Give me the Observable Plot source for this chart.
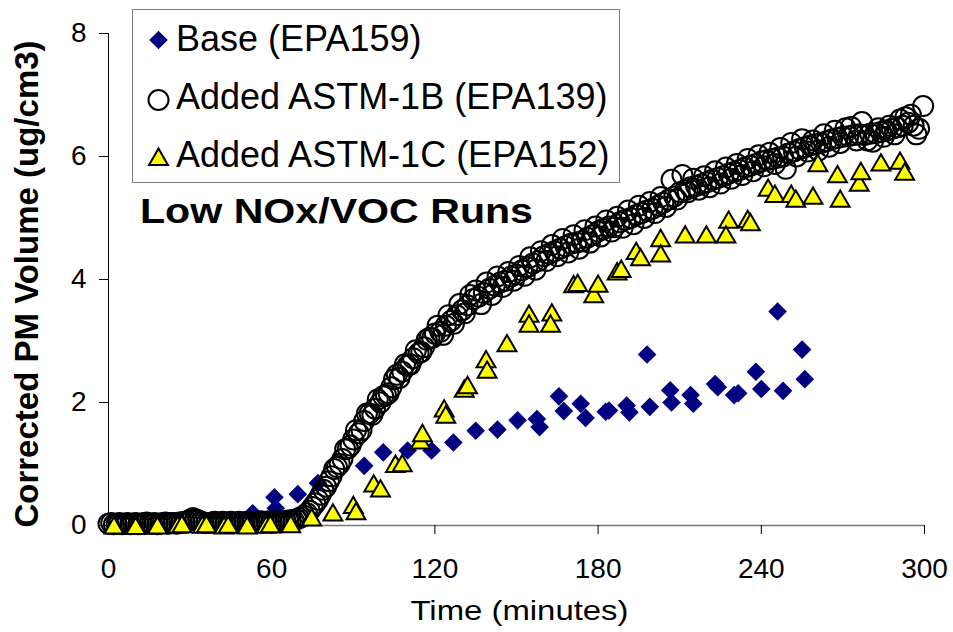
<!DOCTYPE html>
<html>
<head>
<meta charset="utf-8">
<script src="https://cdn.jsdelivr.net/npm/d3@7"></script>
<script src="https://cdn.jsdelivr.net/npm/@observablehq/plot@0.6"></script>
<style>
  html, body { margin: 0; padding: 0; background: white; }
  #wrap { position: relative; width: 953px; height: 632px; overflow: hidden; background: white; }
  #wrap > svg { position: absolute; left: 0; top: 0; }
</style>
</head>
<body>
<div id="wrap"></div>
<script>
const FONT = "'Liberation Sans', Arial, Helvetica, sans-serif";

// ---- data ----
const seriesNames = ["Base (EPA159)", "Added ASTM-1B (EPA139)", "Added ASTM-1C (EPA152)"];
const chartNote = "Low NOx/VOC Runs";
const xTitle = "Time (minutes)";
const yTitle = "Corrected PM Volume (ug/cm3)";
const xTicks = [0, 60, 120, 180, 240, 300];
const yTicks = [0, 2, 4, 6, 8];

// Base (EPA159) - diamonds
const baseT = [53, 61, 61.5, 69.6, 77, 94, 101, 110, 118.8, 126.8, 135, 143, 150.4, 157.5, 158.5,
  165.6, 167.4, 173.6, 175.4, 182.8, 184, 190.5, 191.5, 198, 199, 206.5, 207, 214, 215,
  223, 224, 230, 231.5, 238, 240, 246, 248, 255, 256];
const baseV = [0.2, 0.46, 0.28, 0.51, 0.69, 0.97, 1.19, 1.22, 1.22, 1.35, 1.54, 1.56, 1.71, 1.73, 1.6,
  2.1, 1.86, 1.98, 1.75, 1.85, 1.87, 1.95, 1.84, 2.78, 1.93, 2.2, 2.0, 2.12, 1.98,
  2.3, 2.25, 2.12, 2.15, 2.5, 2.22, 3.48, 2.19, 2.86, 2.38];

// Added ASTM-1B (EPA139) - open circles
const astmBT1 = [0,2,4,6,8,10,12,14,16,18, 20,22,24,26,28,30,32,34,36,38,
  40,42,44,46,48,50,52,54,56,58, 60,62,64,66,68,70,72,74,76,78,
  80,82,84,86,88,90,92,94,96,98, 100,102,104,106,108,110,112,114,116,118,
  120,122,124,126,128,130,132,134,136,138, 140,142,144,146,148,150,152,154,156,158,
  160,162,164,166,168,170,172,174,176,178, 180,182,184,186,188,190,192,194,196,198,
  200,202,204,206,208,210,212,214,216,218, 220,222,224,226,228,230,232,234,236,238,
  240,242,244,246,248,250,252,254,256,258, 260,262,264,266,268,270,272,274,276,278,
  280,282,284,286,288,290,292,294,296,298];
const astmBV1 = [0.03,0.02,0.04,0.03,0.02,0.04,0.03,0.05,0.03,0.02,
  0.04,0.03,0.04,0.05,0.06,0.09,0.10,0.06,0.04,0.05,
  0.04,0.06,0.05,0.04,0.06,0.05,0.06,0.05,0.07,0.06,
  0.05,0.07,0.06,0.08,0.09,0.12,0.16,0.24,0.36,0.50,
  0.63,0.80,0.95,1.08,1.25,1.40,1.50,1.70,1.82,1.90,
  2.00,2.12,2.25,2.45,2.50,2.60,2.72,2.80,2.90,3.05,
  3.12,3.15,3.25,3.33,3.42,3.50,3.58,3.68,3.72,3.78,
  3.85,3.90,3.95,3.98,4.05,4.08,4.15,4.20,4.26,4.30,
  4.38,4.42,4.46,4.50,4.54,4.58,4.60,4.62,4.68,4.72,
  4.78,4.82,4.86,4.85,4.93,4.97,5.00,5.05,5.08,5.12,
  5.15,5.20,5.25,5.30,5.35,5.42,5.45,5.50,5.52,5.55,
  5.58,5.62,5.65,5.68,5.72,5.75,5.78,5.82,5.85,5.88,
  5.92,5.94,5.96,5.98,6.00,6.05,6.08,6.12,6.15,6.18,
  6.20,6.22,6.25,6.28,6.30,6.32,6.33,6.35,6.36,6.35,
  6.37,6.38,6.40,6.42,6.45,6.47,6.50,6.55,6.50,6.45];
const astmBT2 = [1,3,5,7,9,11,13,15,17,19, 21,23,25,27,29,31,33,35,37,39,
  41,43,45,47,49,51,53,55,57,59, 61,63,65,67,69,71,73,75,77,79,
  81,83,85,87,89,91,93,95,97,99, 101,103,105,107,109,111,113,115,117,119,
  121,123,125,127,129,131,133,135,137,139, 141,143,145,147,149,151,153,155,157,159,
  161,163,165,167,169,171,173,175,177,179, 181,183,185,187,189,191,193,195,197,199,
  201,203,205,207,209,211,213,215,217,219, 221,223,225,227,229,231,233,235,237,239,
  241,243,245,247,249,251,253,255,257,259, 261,263,265,267,269,271,273,275,277,279,
  281,283,285,287,289,291,293,295,297,299.5];
const astmBV2 = [0.04,0.03,0.02,0.04,0.03,0.02,0.04,0.03,0.04,0.03,
  0.05,0.04,0.03,0.05,0.07,0.12,0.08,0.05,0.04,0.06,
  0.05,0.04,0.06,0.05,0.04,0.06,0.05,0.06,0.05,0.07,
  0.06,0.05,0.07,0.08,0.10,0.14,0.20,0.30,0.42,0.58,
  0.72,0.92,1.00,1.24,1.30,1.55,1.55,1.82,1.80,2.05,
  2.10,2.15,2.38,2.40,2.62,2.62,2.85,2.82,3.02,3.05,
  3.25,3.10,3.42,3.28,3.60,3.45,3.75,3.82,3.60,3.95,
  3.75,4.05,3.88,4.12,3.98,4.22,4.06,4.36,4.16,4.46,
  4.30,4.56,4.38,4.66,4.44,4.72,4.50,4.80,4.60,4.86,
  4.70,4.96,4.78,5.02,4.84,5.12,4.90,5.20,5.00,5.26,
  5.08,5.34,5.18,5.62,5.30,5.70,5.42,5.64,5.46,5.68,
  5.50,5.76,5.56,5.82,5.64,5.88,5.70,5.96,5.76,6.02,
  5.84,6.06,5.88,6.14,5.80,6.22,6.00,6.28,6.08,6.26,
  6.10,6.36,6.16,6.42,6.22,6.46,6.48,6.26,6.56,6.26,
  6.24,6.46,6.32,6.50,6.36,6.60,6.64,6.68,6.36,6.82];

// Added ASTM-1C (EPA152) - yellow triangles
const astmCT = [2, 10, 18, 25.5, 27, 34.5, 36, 42.5, 44, 51, 58, 59.5, 67, 74.7, 82.5, 90, 91,
  97.5, 100, 105.5, 108, 114.7, 115.4, 123.4, 124, 130.8, 132, 138.8, 139.2, 146.5,
  154.6, 154.6, 163, 162.5, 171, 172.5, 178.4, 180, 187, 188.5, 194, 195.6, 203, 203,
  212, 219.8, 228, 227, 235, 236, 242.5, 245, 251, 252.7, 259, 260.8, 268, 269,
  276, 276.6, 284, 291, 292.7];
const astmCV = [-0.04, -0.05, -0.04, -0.03, -0.02, -0.03, -0.02, -0.04, -0.03, -0.04, -0.03, -0.02, -0.02, 0.09, 0.17, 0.29, 0.19,
  0.64, 0.56, 0.96, 0.97, 1.34, 1.46, 1.86, 1.76, 2.18, 2.24, 2.66, 2.49, 2.92,
  3.40, 3.24, 3.42, 3.24, 3.88, 3.90, 3.72, 3.89, 4.09, 4.13, 4.42, 4.32, 4.63, 4.38,
  4.69, 4.69, 4.93, 4.69, 4.94, 4.89, 5.45, 5.35, 5.35, 5.27, 5.32, 5.85, 5.67, 5.27,
  5.53, 5.72, 5.86, 5.89, 5.71];

const base = baseT.map((t, i) => ({t, v: baseV[i]}));
const astmB = astmBT1.map((t, i) => ({t, v: astmBV1[i]}))
  .concat(astmBT2.map((t, i) => ({t, v: astmBV2[i]})));
const astmC = astmCT.map((t, i) => ({t, v: astmCV[i]}));

// ---- chart ----
const DIAMOND = {symbol: "diamond2", r: 8.4, fill: "#000080", stroke: "none"};
const CIRCLE = {r: 10, fill: "none", stroke: "black", strokeWidth: 2};
const TRIANGLE = {symbol: "triangle", r: 7, fill: "#FFFF00", stroke: "black", strokeWidth: 2};

const chart = Plot.plot({
  width: 953,
  height: 632,
  marginLeft: 108,
  marginRight: 29,
  marginTop: 33,
  marginBottom: 107,
  style: {background: "white", fontFamily: FONT, fontSize: "28px", color: "black", overflow: "visible"},
  x: {domain: [0, 300]},
  y: {domain: [0, 8]},
  marks: [
    Plot.ruleY([0], {stroke: "#777", strokeWidth: 1.5}),
    Plot.ruleX([0], {stroke: "black", strokeWidth: 1}),
    Plot.axisX({ticks: xTicks, tickSize: 9, tickPadding: 24, fontSize: 28, label: null, stroke: "black", tickFormat: d => String(d)}),
    Plot.axisY({ticks: yTicks, tickSize: 9, tickPadding: 13, fontSize: 28, label: null, stroke: "black", tickFormat: d => String(d)}),
    Plot.dot(base, {x: "t", y: "v", ...DIAMOND}),
    Plot.dot(astmB, {x: "t", y: "v", ...CIRCLE}),
    Plot.dot(astmC, {x: "t", y: "v", ...TRIANGLE})
  ]
});

const wrap = document.getElementById("wrap");
wrap.appendChild(chart);

// ---- overlay: legend, note, axis titles ----
const ov = d3.select(wrap).append("svg")
  .attr("width", 953).attr("height", 632)
  .style("position", "absolute").style("left", 0).style("top", 0)
  .style("font-family", FONT);

ov.append("rect")
  .attr("x", 132.5).attr("y", 9.5).attr("width", 487).attr("height", 173)
  .attr("fill", "white").attr("stroke", "#808080").attr("stroke-width", 1);

const legendRows = [
  {name: seriesNames[0], cy: 40, baseline: 51.2, sym: d3.symbolDiamond2, r: DIAMOND.r, fill: DIAMOND.fill, stroke: "none", sw: 0},
  {name: seriesNames[1], cy: 100, baseline: 108.7, sym: d3.symbolCircle, r: CIRCLE.r, fill: "none", stroke: "black", sw: CIRCLE.strokeWidth},
  {name: seriesNames[2], cy: 159.5, baseline: 166.9, sym: d3.symbolTriangle, r: TRIANGLE.r, fill: TRIANGLE.fill, stroke: "black", sw: TRIANGLE.strokeWidth}
];
for (const row of legendRows) {
  ov.append("path")
    .attr("transform", `translate(158.5,${row.cy})`)
    .attr("d", d3.symbol(row.sym, row.r * row.r * Math.PI)())
    .attr("fill", row.fill).attr("stroke", row.stroke).attr("stroke-width", row.sw);
  ov.append("text")
    .attr("x", 176).attr("y", row.baseline)
    .attr("font-size", 36).attr("fill", "black")
    .text(row.name);
}

ov.append("text")
  .attr("x", 140).attr("y", 222.7)
  .attr("font-size", 35).attr("font-weight", "bold").attr("fill", "black")
  .attr("textLength", 393).attr("lengthAdjust", "spacingAndGlyphs")
  .text(chartNote);

ov.append("text")
  .attr("x", 519.5).attr("y", 620)
  .attr("text-anchor", "middle")
  .attr("font-size", 28).attr("fill", "black")
  .attr("textLength", 218).attr("lengthAdjust", "spacingAndGlyphs")
  .text(xTitle);

ov.append("text")
  .attr("transform", "translate(38,284) rotate(-90)")
  .attr("text-anchor", "middle")
  .attr("font-size", 33).attr("font-weight", "bold").attr("fill", "black")
  .text(yTitle);
</script>
</body>
</html>
